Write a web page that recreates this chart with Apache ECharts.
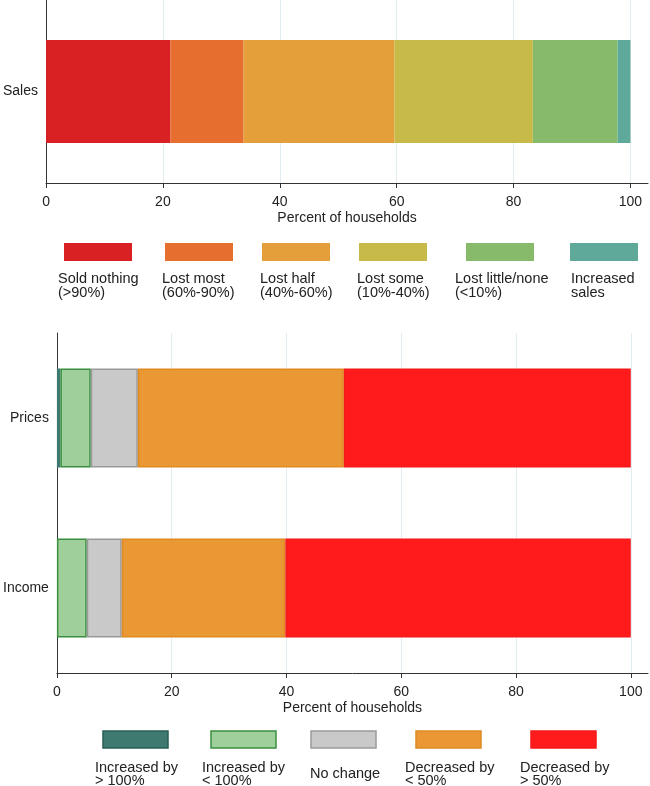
<!DOCTYPE html>
<html>
<head>
<meta charset="utf-8">
<script src="https://cdn.jsdelivr.net/npm/echarts@6/dist/echarts.min.js"></script>
<style>html,body{margin:0;padding:0;background:#fff}#c{width:650px;height:786px}</style>
</head>
<body>
<div id="c"></div>
<script>
// ---- data ----
var salesCategories = ['Sales'];
var salesLabels = ['Sold nothing\n(>90%)', 'Lost most\n(60%-90%)', 'Lost half\n(40%-60%)', 'Lost some\n(10%-40%)', 'Lost little/none\n(<10%)', 'Increased\nsales'];
var salesValues = [21.3, 12.5, 25.8, 23.7, 14.5, 2.2];
var salesColors = ['#d92023', '#e66e2f', '#e59f3a', '#c8ba48', '#87bb6b', '#5ea99a'];

var changeCategories = ['Prices', 'Income'];
var changeLabels = ['Increased by\n> 100%', 'Increased by\n< 100%', 'No change', 'Decreased by\n< 50%', 'Decreased by\n> 50%'];
var pricesValues = [0.6, 5.3, 8.2, 35.9, 50.0];
var incomeValues = [0, 5.2, 6.1, 28.5, 60.2];
var changeColors = ['#3f7a70', '#9fd09b', '#c9c9c9', '#ea9834', '#ff1a1c'];
var changeBorders = ['#2a5d55', '#3a8f3f', '#9a9a9a', '#e08a22', '#f51a1a'];

var xTicks = [0, 20, 40, 60, 80, 100];
var axisTitle = 'Percent of households';

// ---- chart ----
var FONT = 'Liberation Sans, Arial, sans-serif';
var chart = echarts.init(document.getElementById('c'), null, {renderer: 'canvas'});

function xAxisCfg(gridIndex) {
  return {
    type: 'value', gridIndex: gridIndex, min: 0, max: 103,
    name: axisTitle, nameLocation: 'middle', nameGap: 28,
    nameTextStyle: {fontFamily: FONT, fontSize: 14, color: '#222'},
    axisLine: {show: true, lineStyle: {color: '#333', width: 1}},
    axisTick: {show: true, length: 5, customValues: xTicks, lineStyle: {color: '#333'}},
    axisLabel: {customValues: xTicks, margin: 12, fontFamily: FONT, fontSize: 14, color: '#222'},
    splitLine: {show: true, lineStyle: {color: '#e3edf1', width: 1}}
  };
}
function yAxisCfg(gridIndex, cats) {
  return {
    type: 'category', gridIndex: gridIndex, data: cats, inverse: true,
    axisLine: {show: true, onZero: false, lineStyle: {color: '#333', width: 1}},
    axisTick: {show: false},
    axisLabel: {margin: 8, fontFamily: FONT, fontSize: 14, color: '#222'},
    splitLine: {show: false}
  };
}

var series = [];
salesLabels.forEach(function (name, i) {
  series.push({
    type: 'bar', name: name.replace('\n', ' '), stack: 'sales',
    xAxisIndex: 0, yAxisIndex: 0, barWidth: 103,
    data: [salesValues[i]],
    itemStyle: {color: salesColors[i]},
    emphasis: {disabled: true}, silent: true
  });
});
changeLabels.forEach(function (name, i) {
  series.push({
    type: 'bar', name: name.replace('\n', ' '), stack: 'change',
    xAxisIndex: 1, yAxisIndex: 1, barWidth: 99,
    data: [pricesValues[i], incomeValues[i]],
    itemStyle: {color: changeColors[i], borderColor: changeBorders[i], borderWidth: i === 0 ? 0 : 1.5},
    emphasis: {disabled: true}, silent: true
  });
});

// legends drawn as keys above text (layout only)
var graphics = [];
var topBoxX = [64, 165, 262, 359, 466, 570];
var topTextX = [58, 162, 260, 357, 455, 571];
salesLabels.forEach(function (t, i) {
  graphics.push({type: 'rect', shape: {x: topBoxX[i], y: 243, width: 68, height: 18}, style: {fill: salesColors[i]}, silent: true});
  graphics.push({type: 'text', x: topTextX[i], y: 286, style: {text: t, font: '14.5px ' + FONT, fill: '#222', lineHeight: 14, verticalAlign: 'middle', align: 'left'}, silent: true});
});
var botBoxX = [103, 211, 311, 416, 531];
var botTextX = [95, 202, 310, 405, 520];
changeLabels.forEach(function (t, i) {
  graphics.push({type: 'rect', shape: {x: botBoxX[i], y: 731, width: 65, height: 17}, style: {fill: changeColors[i], stroke: changeBorders[i], lineWidth: 1.5}, silent: true});
  graphics.push({type: 'text', x: botTextX[i], y: 774, style: {text: t, font: '14.5px ' + FONT, fill: '#222', lineHeight: 13, verticalAlign: 'middle', align: 'left'}, silent: true});
});

chart.setOption({
  animation: false,
  backgroundColor: '#ffffff',
  grid: [
    {left: 44, top: 0, width: 604, height: 183, containLabel: false},
    {left: 53, top: 333, width: 595, height: 340, containLabel: false}
  ],
  xAxis: [xAxisCfg(0), xAxisCfg(1)],
  yAxis: [yAxisCfg(0, salesCategories), yAxisCfg(1, changeCategories)],
  series: series,
  graphic: graphics
});
</script>
</body>
</html>
